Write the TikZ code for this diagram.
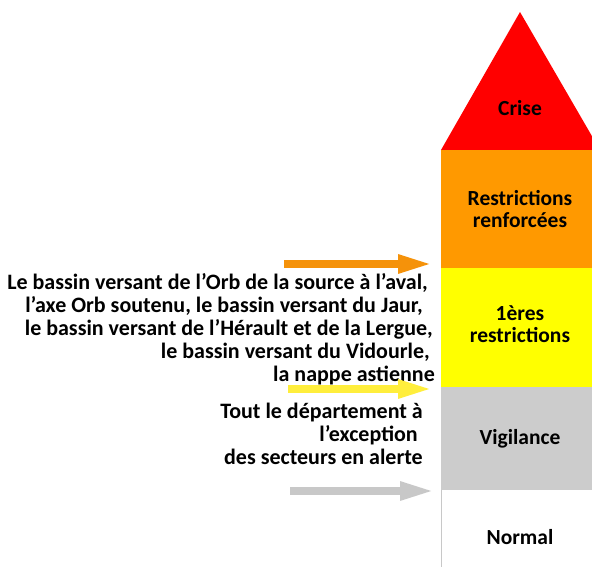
\documentclass[tikz,border=0pt]{standalone}
\usepackage{fontspec}
\setmainfont{Carlito}
\usetikzlibrary{arrows.meta}
\definecolor{crisered}{RGB}{255,0,0}
\definecolor{renforange}{RGB}{255,153,0}
\definecolor{restryellow}{RGB}{255,255,0}
\definecolor{vigigray}{RGB}{204,204,204}
\definecolor{arroworange}{RGB}{245,146,10}
\definecolor{arrowyellow}{RGB}{255,238,60}
\definecolor{arrowgray}{RGB}{200,200,200}
\tikzset{
  lvl/.style={font=\fontsize{21.5}{22}\selectfont\bfseries, align=center, text=black},
  side/.style={font=\fontsize{22}{23}\selectfont\bfseries, align=right, text=black, anchor=east, inner sep=0pt},
  bigarrow/.style={line width=8pt, -{Triangle[length=35pt,width=17pt]}, shorten >=0pt}
}
\begin{document}
\begin{tikzpicture}[x=1pt,y=-1pt]
\useasboundingbox (0,0) rectangle (592,567);
\begin{scope}
\clip (0,0) rectangle (592,567);
\fill[crisered] (441,150) -- (520,12) -- (600,150) -- cycle;
\fill[renforange] (441,150) rectangle (600,268);
\fill[restryellow] (441,268) rectangle (600,387);
\fill[vigigray] (441,387) rectangle (600,490);
\draw[arrowgray, line width=0.8pt] (441,490) -- (441,567);
\end{scope}
\node[lvl] (crise) at (520,108) {Crise};
\node[lvl] (renf) at (520,209) {Restrictions\\renforcées};
\node[lvl] (prem) at (520,324) {1ères\\restrictions};
\node[lvl] (vigi) at (520,439) {Vigilance};
\node[lvl] (norm) at (520,537) {Normal};
\node[side] (bassins) at (435,329) {Le bassin versant de l’Orb de la source à l’aval,\kern7pt\\
l’axe Orb soutenu, le bassin versant du Jaur,\kern12pt\\
le bassin versant de l’Hérault et de la Lergue,\kern2pt\\
le bassin versant du Vidourle,\kern5pt\\
la nappe astienne};
\node[side] (dept) at (423,434) {Tout le département à\\l’exception\kern5pt\\des secteurs en alerte};
\coordinate (oa) at (284,264); \coordinate (ob) at (433,264);
\coordinate (ya) at (288,389); \coordinate (yb) at (433,389);
\coordinate (ga) at (290,491); \coordinate (gb) at (435,491);
\draw[bigarrow, arroworange] (oa) -- (ob);
\draw[bigarrow, arrowyellow] (ya) -- (yb);
\draw[bigarrow, arrowgray] (ga) -- (gb);
\end{tikzpicture}
\end{document}
